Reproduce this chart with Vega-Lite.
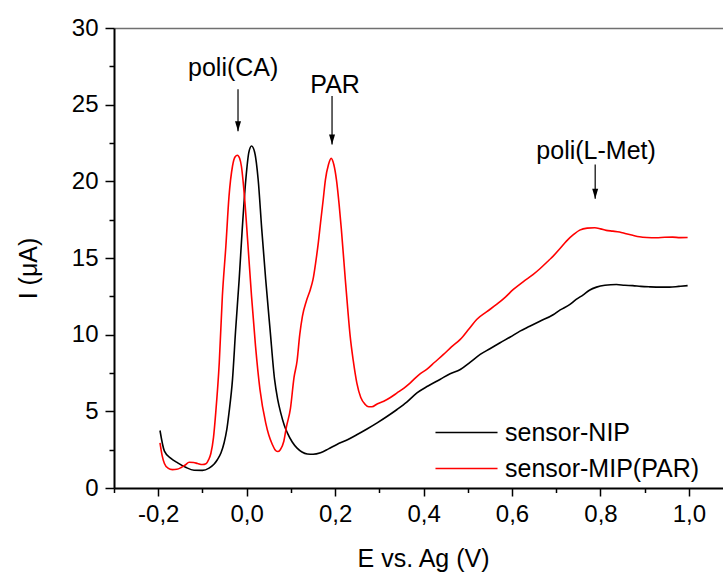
{
  "$schema": "https://vega.github.io/schema/vega-lite/v6.json",
  "autosize": {"type": "none"},
  "width": 609,
  "height": 460,
  "padding": {"left": 114, "top": 28, "right": 0, "bottom": 86},
  "config": {
    "font": "Liberation Sans",
    "view": {"stroke": null},
    "locale": {"number": {"decimal": ",", "thousands": ".", "grouping": [3], "currency": ["", "€"], "minus": "-"}},
    "axis": {"grid": false, "labelColor": "#000000", "tickColor": "#000000", "domainColor": "#000000", "titleColor": "#000000", "titleFontWeight": "normal"}
  },
  "datasets": {
    "curves": [
      {"s": "sensor-NIP", "E": -0.196, "I": 3.75},
      {"s": "sensor-NIP", "E": -0.186, "I": 2.4},
      {"s": "sensor-NIP", "E": -0.172, "I": 1.95},
      {"s": "sensor-NIP", "E": -0.156, "I": 1.64},
      {"s": "sensor-NIP", "E": -0.138, "I": 1.35},
      {"s": "sensor-NIP", "E": -0.119, "I": 1.16},
      {"s": "sensor-NIP", "E": -0.1, "I": 1.15},
      {"s": "sensor-NIP", "E": -0.085, "I": 1.3},
      {"s": "sensor-NIP", "E": -0.074, "I": 1.55},
      {"s": "sensor-NIP", "E": -0.066, "I": 1.86},
      {"s": "sensor-NIP", "E": -0.058, "I": 2.3},
      {"s": "sensor-NIP", "E": -0.051, "I": 2.95},
      {"s": "sensor-NIP", "E": -0.045, "I": 3.8},
      {"s": "sensor-NIP", "E": -0.04, "I": 4.9},
      {"s": "sensor-NIP", "E": -0.032, "I": 7.1},
      {"s": "sensor-NIP", "E": -0.025, "I": 10.3},
      {"s": "sensor-NIP", "E": -0.017, "I": 13.6},
      {"s": "sensor-NIP", "E": -0.01, "I": 16.9},
      {"s": "sensor-NIP", "E": -0.002, "I": 20.1},
      {"s": "sensor-NIP", "E": 0.005, "I": 21.9},
      {"s": "sensor-NIP", "E": 0.011, "I": 22.3},
      {"s": "sensor-NIP", "E": 0.018, "I": 21.9},
      {"s": "sensor-NIP", "E": 0.026, "I": 20.1},
      {"s": "sensor-NIP", "E": 0.034, "I": 16.9},
      {"s": "sensor-NIP", "E": 0.043, "I": 13.6},
      {"s": "sensor-NIP", "E": 0.053, "I": 10.3},
      {"s": "sensor-NIP", "E": 0.063, "I": 7.1},
      {"s": "sensor-NIP", "E": 0.07, "I": 5.8},
      {"s": "sensor-NIP", "E": 0.077, "I": 4.9},
      {"s": "sensor-NIP", "E": 0.085, "I": 4.1},
      {"s": "sensor-NIP", "E": 0.092, "I": 3.6},
      {"s": "sensor-NIP", "E": 0.103, "I": 3.0},
      {"s": "sensor-NIP", "E": 0.114, "I": 2.6},
      {"s": "sensor-NIP", "E": 0.125, "I": 2.35},
      {"s": "sensor-NIP", "E": 0.137, "I": 2.22},
      {"s": "sensor-NIP", "E": 0.15, "I": 2.2},
      {"s": "sensor-NIP", "E": 0.167, "I": 2.3},
      {"s": "sensor-NIP", "E": 0.185, "I": 2.55},
      {"s": "sensor-NIP", "E": 0.204, "I": 2.84},
      {"s": "sensor-NIP", "E": 0.228, "I": 3.15},
      {"s": "sensor-NIP", "E": 0.25, "I": 3.49},
      {"s": "sensor-NIP", "E": 0.272, "I": 3.85},
      {"s": "sensor-NIP", "E": 0.295, "I": 4.25},
      {"s": "sensor-NIP", "E": 0.318, "I": 4.68},
      {"s": "sensor-NIP", "E": 0.34, "I": 5.12},
      {"s": "sensor-NIP", "E": 0.362, "I": 5.6},
      {"s": "sensor-NIP", "E": 0.385, "I": 6.2},
      {"s": "sensor-NIP", "E": 0.41, "I": 6.65},
      {"s": "sensor-NIP", "E": 0.437, "I": 7.08},
      {"s": "sensor-NIP", "E": 0.46, "I": 7.45},
      {"s": "sensor-NIP", "E": 0.483, "I": 7.73},
      {"s": "sensor-NIP", "E": 0.505, "I": 8.2},
      {"s": "sensor-NIP", "E": 0.528, "I": 8.71},
      {"s": "sensor-NIP", "E": 0.55, "I": 9.08},
      {"s": "sensor-NIP", "E": 0.573, "I": 9.47},
      {"s": "sensor-NIP", "E": 0.596, "I": 9.85},
      {"s": "sensor-NIP", "E": 0.618, "I": 10.23},
      {"s": "sensor-NIP", "E": 0.64, "I": 10.55},
      {"s": "sensor-NIP", "E": 0.663, "I": 10.88},
      {"s": "sensor-NIP", "E": 0.693, "I": 11.3},
      {"s": "sensor-NIP", "E": 0.708, "I": 11.6},
      {"s": "sensor-NIP", "E": 0.731, "I": 11.97},
      {"s": "sensor-NIP", "E": 0.745, "I": 12.3},
      {"s": "sensor-NIP", "E": 0.761, "I": 12.6},
      {"s": "sensor-NIP", "E": 0.775, "I": 12.9},
      {"s": "sensor-NIP", "E": 0.791, "I": 13.1},
      {"s": "sensor-NIP", "E": 0.81, "I": 13.22},
      {"s": "sensor-NIP", "E": 0.836, "I": 13.27},
      {"s": "sensor-NIP", "E": 0.855, "I": 13.22},
      {"s": "sensor-NIP", "E": 0.873, "I": 13.2},
      {"s": "sensor-NIP", "E": 0.891, "I": 13.15},
      {"s": "sensor-NIP", "E": 0.911, "I": 13.12},
      {"s": "sensor-NIP", "E": 0.935, "I": 13.1},
      {"s": "sensor-NIP", "E": 0.956, "I": 13.1},
      {"s": "sensor-NIP", "E": 0.977, "I": 13.15},
      {"s": "sensor-NIP", "E": 0.997, "I": 13.2},
      {"s": "sensor-MIP(PAR)", "E": -0.196, "I": 2.95},
      {"s": "sensor-MIP(PAR)", "E": -0.191, "I": 2.1},
      {"s": "sensor-MIP(PAR)", "E": -0.186, "I": 1.6},
      {"s": "sensor-MIP(PAR)", "E": -0.178, "I": 1.3},
      {"s": "sensor-MIP(PAR)", "E": -0.168, "I": 1.2},
      {"s": "sensor-MIP(PAR)", "E": -0.158, "I": 1.22},
      {"s": "sensor-MIP(PAR)", "E": -0.149, "I": 1.32},
      {"s": "sensor-MIP(PAR)", "E": -0.139, "I": 1.5},
      {"s": "sensor-MIP(PAR)", "E": -0.13, "I": 1.68},
      {"s": "sensor-MIP(PAR)", "E": -0.12, "I": 1.66},
      {"s": "sensor-MIP(PAR)", "E": -0.111, "I": 1.6},
      {"s": "sensor-MIP(PAR)", "E": -0.1, "I": 1.53},
      {"s": "sensor-MIP(PAR)", "E": -0.092, "I": 1.58},
      {"s": "sensor-MIP(PAR)", "E": -0.086, "I": 1.85},
      {"s": "sensor-MIP(PAR)", "E": -0.081, "I": 2.25},
      {"s": "sensor-MIP(PAR)", "E": -0.075, "I": 3.3},
      {"s": "sensor-MIP(PAR)", "E": -0.07, "I": 4.9},
      {"s": "sensor-MIP(PAR)", "E": -0.062, "I": 8.17},
      {"s": "sensor-MIP(PAR)", "E": -0.055, "I": 12.5},
      {"s": "sensor-MIP(PAR)", "E": -0.047, "I": 15.8},
      {"s": "sensor-MIP(PAR)", "E": -0.04, "I": 19.0},
      {"s": "sensor-MIP(PAR)", "E": -0.032, "I": 21.0},
      {"s": "sensor-MIP(PAR)", "E": -0.026, "I": 21.6},
      {"s": "sensor-MIP(PAR)", "E": -0.021, "I": 21.7},
      {"s": "sensor-MIP(PAR)", "E": -0.016, "I": 21.5},
      {"s": "sensor-MIP(PAR)", "E": -0.012, "I": 21.0},
      {"s": "sensor-MIP(PAR)", "E": -0.005, "I": 19.0},
      {"s": "sensor-MIP(PAR)", "E": 0.003, "I": 15.8},
      {"s": "sensor-MIP(PAR)", "E": 0.011, "I": 12.5},
      {"s": "sensor-MIP(PAR)", "E": 0.02, "I": 9.25},
      {"s": "sensor-MIP(PAR)", "E": 0.03, "I": 6.43},
      {"s": "sensor-MIP(PAR)", "E": 0.043, "I": 4.25},
      {"s": "sensor-MIP(PAR)", "E": 0.05, "I": 3.45},
      {"s": "sensor-MIP(PAR)", "E": 0.058, "I": 2.84},
      {"s": "sensor-MIP(PAR)", "E": 0.064, "I": 2.5},
      {"s": "sensor-MIP(PAR)", "E": 0.07, "I": 2.38},
      {"s": "sensor-MIP(PAR)", "E": 0.076, "I": 2.5},
      {"s": "sensor-MIP(PAR)", "E": 0.084, "I": 3.05},
      {"s": "sensor-MIP(PAR)", "E": 0.09, "I": 4.0},
      {"s": "sensor-MIP(PAR)", "E": 0.099, "I": 5.2},
      {"s": "sensor-MIP(PAR)", "E": 0.107, "I": 7.2},
      {"s": "sensor-MIP(PAR)", "E": 0.114, "I": 8.3},
      {"s": "sensor-MIP(PAR)", "E": 0.12, "I": 10.0},
      {"s": "sensor-MIP(PAR)", "E": 0.126, "I": 11.2},
      {"s": "sensor-MIP(PAR)", "E": 0.135, "I": 12.2},
      {"s": "sensor-MIP(PAR)", "E": 0.144, "I": 12.95},
      {"s": "sensor-MIP(PAR)", "E": 0.15, "I": 13.6},
      {"s": "sensor-MIP(PAR)", "E": 0.156, "I": 14.7},
      {"s": "sensor-MIP(PAR)", "E": 0.162, "I": 16.0},
      {"s": "sensor-MIP(PAR)", "E": 0.167, "I": 17.3},
      {"s": "sensor-MIP(PAR)", "E": 0.173, "I": 18.8},
      {"s": "sensor-MIP(PAR)", "E": 0.178, "I": 20.1},
      {"s": "sensor-MIP(PAR)", "E": 0.185, "I": 21.1},
      {"s": "sensor-MIP(PAR)", "E": 0.191, "I": 21.5},
      {"s": "sensor-MIP(PAR)", "E": 0.197, "I": 21.1},
      {"s": "sensor-MIP(PAR)", "E": 0.203, "I": 20.1},
      {"s": "sensor-MIP(PAR)", "E": 0.209, "I": 18.5},
      {"s": "sensor-MIP(PAR)", "E": 0.214, "I": 16.9},
      {"s": "sensor-MIP(PAR)", "E": 0.223, "I": 13.6},
      {"s": "sensor-MIP(PAR)", "E": 0.229, "I": 11.5},
      {"s": "sensor-MIP(PAR)", "E": 0.234, "I": 9.9},
      {"s": "sensor-MIP(PAR)", "E": 0.241, "I": 8.3},
      {"s": "sensor-MIP(PAR)", "E": 0.249, "I": 6.86},
      {"s": "sensor-MIP(PAR)", "E": 0.258, "I": 5.9},
      {"s": "sensor-MIP(PAR)", "E": 0.268, "I": 5.45},
      {"s": "sensor-MIP(PAR)", "E": 0.276, "I": 5.3},
      {"s": "sensor-MIP(PAR)", "E": 0.283, "I": 5.3},
      {"s": "sensor-MIP(PAR)", "E": 0.296, "I": 5.5},
      {"s": "sensor-MIP(PAR)", "E": 0.31, "I": 5.66},
      {"s": "sensor-MIP(PAR)", "E": 0.325, "I": 5.9},
      {"s": "sensor-MIP(PAR)", "E": 0.34, "I": 6.2},
      {"s": "sensor-MIP(PAR)", "E": 0.355, "I": 6.5},
      {"s": "sensor-MIP(PAR)", "E": 0.37, "I": 6.86},
      {"s": "sensor-MIP(PAR)", "E": 0.392, "I": 7.45},
      {"s": "sensor-MIP(PAR)", "E": 0.407, "I": 7.73},
      {"s": "sensor-MIP(PAR)", "E": 0.425, "I": 8.2},
      {"s": "sensor-MIP(PAR)", "E": 0.445, "I": 8.71},
      {"s": "sensor-MIP(PAR)", "E": 0.463, "I": 9.2},
      {"s": "sensor-MIP(PAR)", "E": 0.483, "I": 9.69},
      {"s": "sensor-MIP(PAR)", "E": 0.502, "I": 10.35},
      {"s": "sensor-MIP(PAR)", "E": 0.52, "I": 10.99},
      {"s": "sensor-MIP(PAR)", "E": 0.543, "I": 11.5},
      {"s": "sensor-MIP(PAR)", "E": 0.565, "I": 11.97},
      {"s": "sensor-MIP(PAR)", "E": 0.585, "I": 12.45},
      {"s": "sensor-MIP(PAR)", "E": 0.603, "I": 12.95},
      {"s": "sensor-MIP(PAR)", "E": 0.625, "I": 13.45},
      {"s": "sensor-MIP(PAR)", "E": 0.648, "I": 13.93},
      {"s": "sensor-MIP(PAR)", "E": 0.663, "I": 14.3},
      {"s": "sensor-MIP(PAR)", "E": 0.685, "I": 14.9},
      {"s": "sensor-MIP(PAR)", "E": 0.693, "I": 15.12},
      {"s": "sensor-MIP(PAR)", "E": 0.708, "I": 15.6},
      {"s": "sensor-MIP(PAR)", "E": 0.723, "I": 16.1},
      {"s": "sensor-MIP(PAR)", "E": 0.74, "I": 16.55},
      {"s": "sensor-MIP(PAR)", "E": 0.753, "I": 16.82},
      {"s": "sensor-MIP(PAR)", "E": 0.77, "I": 16.95},
      {"s": "sensor-MIP(PAR)", "E": 0.787, "I": 16.97},
      {"s": "sensor-MIP(PAR)", "E": 0.8, "I": 16.9},
      {"s": "sensor-MIP(PAR)", "E": 0.813, "I": 16.8},
      {"s": "sensor-MIP(PAR)", "E": 0.828, "I": 16.75},
      {"s": "sensor-MIP(PAR)", "E": 0.843, "I": 16.69},
      {"s": "sensor-MIP(PAR)", "E": 0.858, "I": 16.58},
      {"s": "sensor-MIP(PAR)", "E": 0.873, "I": 16.48},
      {"s": "sensor-MIP(PAR)", "E": 0.888, "I": 16.39},
      {"s": "sensor-MIP(PAR)", "E": 0.905, "I": 16.34},
      {"s": "sensor-MIP(PAR)", "E": 0.926, "I": 16.32},
      {"s": "sensor-MIP(PAR)", "E": 0.945, "I": 16.35},
      {"s": "sensor-MIP(PAR)", "E": 0.963, "I": 16.36},
      {"s": "sensor-MIP(PAR)", "E": 0.98, "I": 16.33},
      {"s": "sensor-MIP(PAR)", "E": 0.997, "I": 16.34}
    ],
    "notes": [
      {"label": "poli(CA)", "ax": -0.0196, "atop": 26.0, "atip": 23.27, "tx": -0.0305, "ty": 26.9},
      {"label": "PAR", "ax": 0.193, "atop": 25.56, "atip": 22.4, "tx": 0.2, "ty": 25.73},
      {"label": "poli(L-Met)", "ax": 0.788, "atop": 21.1, "atip": 18.87, "tx": 0.79, "ty": 21.47}
    ]
  },
  "resolve": {"axis": {"x": "independent", "y": "independent"}},
  "layer": [
    {
      "data": {"name": "curves"},
      "mark": {"type": "line", "strokeWidth": 1.6, "interpolate": "monotone"},
      "encoding": {
        "x": {
          "field": "E", "type": "quantitative",
          "scale": {"domain": [-0.3, 1.077], "nice": false, "zero": false},
          "axis": {
            "orient": "bottom", "values": [-0.2, 0, 0.2, 0.4, 0.6, 0.8, 1.0], "format": ".1f",
            "labelFontSize": 24, "labelPadding": 6, "tickSize": 8, "tickWidth": 1.5, "domainWidth": 2,
            "title": "E vs. Ag (V)", "titleFontSize": 25, "titleX": 309, "titleY": 78, "titleBaseline": "alphabetic"
          }
        },
        "y": {
          "field": "I", "type": "quantitative",
          "scale": {"domain": [0, 30], "nice": false, "zero": false},
          "axis": {
            "orient": "left", "values": [0, 5, 10, 15, 20, 25, 30],
            "labelFontSize": 24, "labelPadding": 7, "tickSize": 9, "tickWidth": 1.5, "domainWidth": 2,
            "title": "I (μA)", "titleFontSize": 25, "titleX": -86, "titleY": 240, "titleBaseline": "middle", "titleAngle": -90
          }
        },
        "color": {
          "field": "s", "type": "nominal",
          "scale": {"domain": ["sensor-NIP", "sensor-MIP(PAR)"], "range": ["#000000", "#ff0000"]},
          "legend": {
            "orient": "none", "legendX": 340, "legendY": 392, "title": null, "padding": 0,
            "symbolType": "M-5,0H5", "symbolSize": 154, "symbolStrokeWidth": 1.5,
            "labelFontSize": 25, "labelOffset": 26, "labelLimit": 0, "rowPadding": 10, "labelColor": "#000000"
          }
        }
      }
    },
    {
      "data": {"name": "notes"},
      "mark": {"type": "rule", "color": "#000000", "strokeWidth": 1.2},
      "encoding": {
        "x": {
          "field": "ax", "type": "quantitative",
          "axis": {"orient": "bottom", "values": [-0.3, -0.1, 0.1, 0.3, 0.5, 0.7, 0.9], "labels": false, "domain": false, "tickSize": 4.5, "tickWidth": 1.5, "title": null}
        },
        "y": {
          "field": "atop", "type": "quantitative",
          "axis": {"orient": "left", "values": [2.5, 7.5, 12.5, 17.5, 22.5, 27.5], "labels": false, "domain": false, "tickSize": 5, "tickWidth": 1.5, "title": null}
        },
        "y2": {"field": "atip"}
      }
    },
    {
      "data": {"name": "notes"},
      "mark": {"type": "point", "shape": "M-0.6,-1L0.6,-1L0,1Z", "size": 100, "filled": true, "color": "#000000", "opacity": 1, "yOffset": -5},
      "encoding": {
        "x": {
          "field": "ax", "type": "quantitative",
          "axis": {"orient": "top", "domain": true, "domainColor": "#707070", "domainWidth": 1.5, "ticks": false, "labels": false, "title": null}
        },
        "y": {"field": "atip", "type": "quantitative", "axis": null}
      }
    },
    {
      "data": {"name": "notes"},
      "mark": {"type": "text", "fontSize": 25, "align": "center", "baseline": "alphabetic", "color": "#000000"},
      "encoding": {
        "x": {"field": "tx", "type": "quantitative", "axis": null},
        "y": {"field": "ty", "type": "quantitative", "axis": null},
        "text": {"field": "label"}
      }
    }
  ]
}
